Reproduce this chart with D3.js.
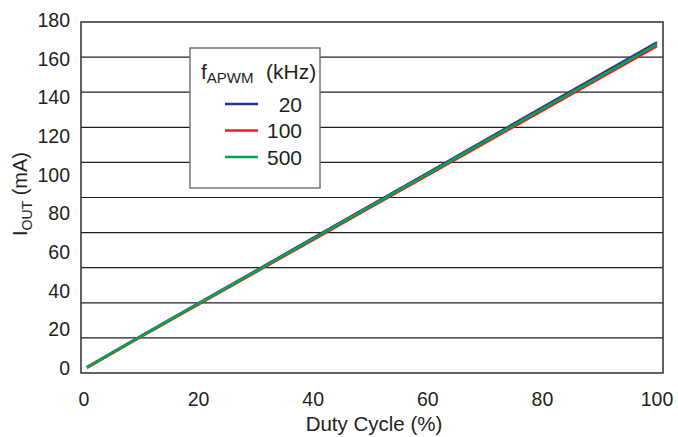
<!DOCTYPE html>
<html lang="en">
<head>
<meta charset="UTF-8"/>
<title>IOUT vs Duty Cycle</title>
<script src="https://d3js.org/d3.v7.min.js"></script>
<style>
  body { margin: 0; background: #fff; }
  text { font-family: "Liberation Sans", Arial, sans-serif; fill: #231f20; }
</style>
</head>
<body>
<script>
// data
var duty = [0.5, 10, 20, 30, 40, 50, 60, 70, 80, 90, 100];
var iout20  = [0.5, 16.7, 33.6, 50.4, 67.3, 84.2, 101.0, 117.9, 134.8, 151.6, 168.5];
var iout100 = [0.1, 16.2, 32.9, 49.6, 66.3, 83.0, 99.7, 116.4, 133.1, 149.8, 166.5];
var iout500 = [0.4, 16.6, 33.4, 50.1, 66.9, 83.7, 100.4, 117.2, 134.0, 150.7, 167.5];
var seriesNames = ["20", "100", "500"];
var xTicks = [0, 20, 40, 60, 80, 100];
var yTicks = [0, 20, 40, 60, 80, 100, 120, 140, 160, 180];

var w = 678, h = 437;
var box = {left: 81, right: 663, top: 22, bottom: 373};

var svg = d3.select("body").append("svg")
  .attr("width", w).attr("height", h);

var xScale = d3.scaleLinear().domain([0, 100]).range([84, 657]);
var yScale = d3.scaleLinear().domain([0, 180]).range([368, 20]);
// the grid in the picture has 10 equal bands inside the frame
var gridScale = d3.scaleLinear().domain([0, 10]).range([box.bottom, box.top]);

// grid lines
svg.append("g").selectAll("line")
  .data(d3.range(1, 10))
  .enter().append("line")
  .attr("x1", box.left).attr("x2", box.right)
  .attr("y1", d => gridScale(d)).attr("y2", d => gridScale(d))
  .attr("stroke", "#231f20").attr("stroke-width", 1.2);

// frame
svg.append("rect")
  .attr("x", box.left).attr("y", box.top)
  .attr("width", box.right - box.left).attr("height", box.bottom - box.top)
  .attr("fill", "none").attr("stroke", "#231f20").attr("stroke-width", 1.4);

// x tick labels
svg.append("g").selectAll("text")
  .data(xTicks).enter().append("text")
  .attr("x", d => xScale(d)).attr("y", 406)
  .attr("text-anchor", "middle")
  .style("font-size", "19.5px")
  .text(d => d);

// y tick labels
svg.append("g").selectAll("text")
  .data(yTicks).enter().append("text")
  .attr("x", 70).attr("y", d => yScale(d))
  .attr("dy", "0.36em")
  .attr("text-anchor", "end")
  .style("font-size", "19.5px")
  .text(d => d);

// axis titles
svg.append("text")
  .attr("x", 374).attr("y", 431)
  .attr("text-anchor", "middle")
  .style("font-size", "20.5px")
  .text("Duty Cycle (%)");

var yt = svg.append("text")
  .attr("transform", "translate(27,194) rotate(-90)")
  .attr("text-anchor", "middle")
  .style("font-size", "20px");
yt.append("tspan").text("I");
yt.append("tspan").attr("dy", 5).style("font-size", "14px").text("OUT");
yt.append("tspan").attr("dy", -5).text(" (mA)");

// legend
var legend = svg.append("g");
legend.append("rect")
  .attr("x", 190).attr("y", 48).attr("width", 130).attr("height", 140)
  .attr("fill", "#fff").attr("stroke", "#6d6e71").attr("stroke-width", 1.4);

var lt = legend.append("text")
  .attr("x", 201).attr("y", 79)
  .style("font-size", "21px");
lt.append("tspan").text("f");
lt.append("tspan").attr("dy", 4).style("font-size", "15px").text("APWM");
lt.append("tspan").attr("x", 266).attr("dy", -4).text("(kHz)");

var series = [
  {name: seriesNames[0], values: iout20, color: "#2e3192"},
  {name: seriesNames[1], values: iout100, color: "#ed1c24"},
  {name: seriesNames[2], values: iout500, color: "#00a651"}
];

var entries = legend.selectAll(".entry")
  .data(series).enter().append("g")
  .attr("transform", (d, i) => "translate(0," + (104 + i * 26.5) + ")");
entries.append("line")
  .attr("x1", 225).attr("x2", 258)
  .attr("stroke", d => d.color).attr("stroke-width", 2.5);
entries.append("text")
  .attr("x", 302).attr("y", 7.5)
  .attr("text-anchor", "end")
  .style("font-size", "21px")
  .text(d => d.name);

// curves: blue, red, then green on top
var line = d3.line()
  .x((d, i) => xScale(duty[i]))
  .y(d => yScale(d));

svg.append("g").selectAll("path")
  .data(series).enter().append("path")
  .attr("d", d => line(d.values))
  .attr("fill", "none")
  .attr("stroke", d => d.color)
  .attr("stroke-width", 2.5);
</script>
</body>
</html>
